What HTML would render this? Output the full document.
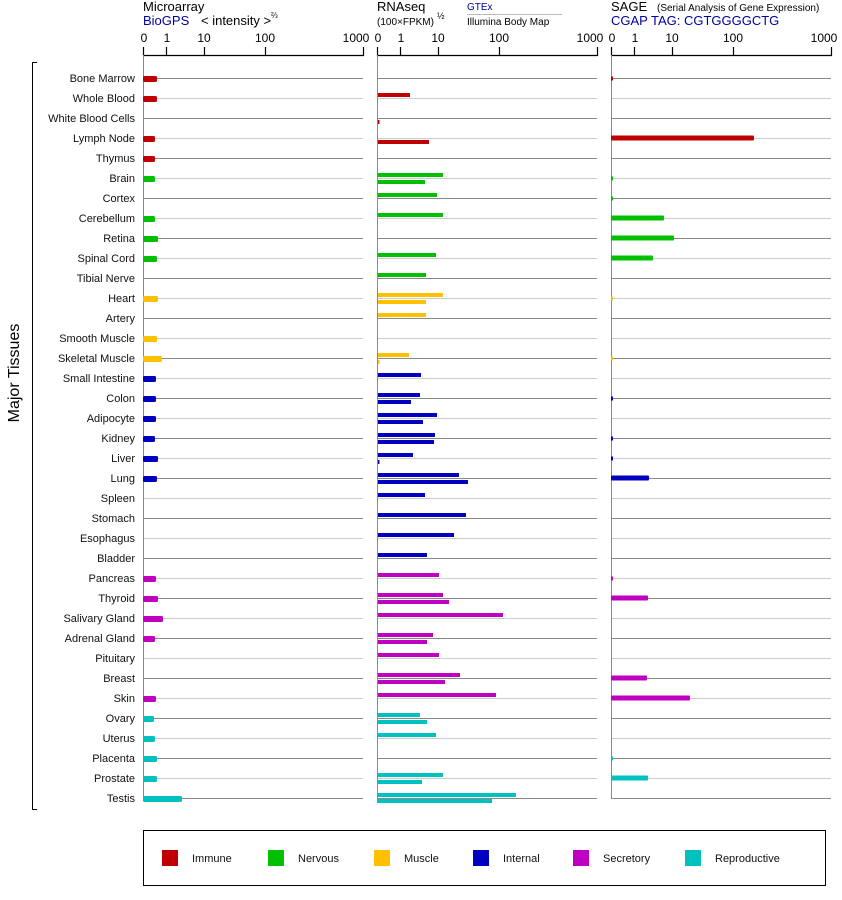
<!DOCTYPE html>
<html><head><meta charset="utf-8"><style>
html,body{margin:0;padding:0;background:#fff;}
svg{display:block;font-family:"Liberation Sans",Arial,sans-serif;}
.lb{font-size:11px;fill:#111;text-anchor:end;}
.tk{font-size:12px;fill:#000;text-anchor:middle;}
</style></head><body>
<svg width="842" height="900" viewBox="0 0 842 900" xmlns="http://www.w3.org/2000/svg">
<!-- headers -->
<text x="143" y="11" font-size="13">Microarray</text>
<text x="143" y="25" font-size="13" fill="#0000a0">BioGPS</text>
<text x="201" y="25" font-size="13">&lt; intensity &gt;</text>
<text x="271" y="18" font-size="8">⅔</text>
<text x="377" y="11" font-size="13">RNAseq</text>
<text x="377" y="25" font-size="10">(100×FPKM)</text>
<text x="437" y="19" font-size="9">½</text>
<text x="467" y="10" font-size="10" fill="#0000a0">GTEx</text>
<line x1="467" y1="14.5" x2="562" y2="14.5" stroke="#bbb"/>
<text x="467" y="25" font-size="10">Illumina Body Map</text>
<text x="611" y="11" font-size="13">SAGE</text>
<text x="657" y="11" font-size="10">(Serial Analysis of Gene Expression)</text>
<text x="611" y="25" font-size="13" fill="#0000a0">CGAP  TAG: CGTGGGGCTG</text>

<!-- axes -->
<g stroke="#000" stroke-width="1.2" fill="none">
<path d="M143.5 47V55.5H363.5V47M166.5 47V55M204.5 47V55M265.5 47V55"/>
<path d="M377.5 47V55.5H597.5V47M400.5 47V55M438.5 47V55M499.5 47V55"/>
<path d="M611.5 47V55.5H831.5V47M634.5 47V55M672.5 47V55M733.5 47V55"/>
</g>
<g class="tk">
<text x="144" y="42">0</text><text x="167" y="42">1</text><text x="204" y="42">10</text><text x="265" y="42">100</text><text x="356" y="42">1000</text>
<text x="378" y="42">0</text><text x="401" y="42">1</text><text x="438" y="42">10</text><text x="499" y="42">100</text><text x="590" y="42">1000</text>
<text x="612" y="42">0</text><text x="635" y="42">1</text><text x="672" y="42">10</text><text x="733" y="42">100</text><text x="824" y="42">1000</text>
</g>

<!-- row lines -->
<g stroke-width="1">
<g stroke="#888">
<path d="M143 78.5H363M377 78.5H597M611 78.5H831"/>
<path d="M143 118.5H363M377 118.5H597M611 118.5H831"/>
<path d="M143 158.5H363M377 158.5H597M611 158.5H831"/>
<path d="M143 198.5H363M377 198.5H597M611 198.5H831"/>
<path d="M143 238.5H363M377 238.5H597M611 238.5H831"/>
<path d="M143 278.5H363M377 278.5H597M611 278.5H831"/>
<path d="M143 318.5H363M377 318.5H597M611 318.5H831"/>
<path d="M143 358.5H363M377 358.5H597M611 358.5H831"/>
<path d="M143 398.5H363M377 398.5H597M611 398.5H831"/>
<path d="M143 438.5H363M377 438.5H597M611 438.5H831"/>
<path d="M143 478.5H363M377 478.5H597M611 478.5H831"/>
<path d="M143 518.5H363M377 518.5H597M611 518.5H831"/>
<path d="M143 558.5H363M377 558.5H597M611 558.5H831"/>
<path d="M143 598.5H363M377 598.5H597M611 598.5H831"/>
<path d="M143 638.5H363M377 638.5H597M611 638.5H831"/>
<path d="M143 678.5H363M377 678.5H597M611 678.5H831"/>
<path d="M143 718.5H363M377 718.5H597M611 718.5H831"/>
<path d="M143 758.5H363M377 758.5H597M611 758.5H831"/>
<path d="M143 798.5H363M377 798.5H597M611 798.5H831"/>
</g>
<g stroke="#ccc">
<path d="M143 98.5H363M377 98.5H597M611 98.5H831"/>
<path d="M143 138.5H363M377 138.5H597M611 138.5H831"/>
<path d="M143 178.5H363M377 178.5H597M611 178.5H831"/>
<path d="M143 218.5H363M377 218.5H597M611 218.5H831"/>
<path d="M143 258.5H363M377 258.5H597M611 258.5H831"/>
<path d="M143 298.5H363M377 298.5H597M611 298.5H831"/>
<path d="M143 338.5H363M377 338.5H597M611 338.5H831"/>
<path d="M143 378.5H363M377 378.5H597M611 378.5H831"/>
<path d="M143 418.5H363M377 418.5H597M611 418.5H831"/>
<path d="M143 458.5H363M377 458.5H597M611 458.5H831"/>
<path d="M143 498.5H363M377 498.5H597M611 498.5H831"/>
<path d="M143 538.5H363M377 538.5H597M611 538.5H831"/>
<path d="M143 578.5H363M377 578.5H597M611 578.5H831"/>
<path d="M143 618.5H363M377 618.5H597M611 618.5H831"/>
<path d="M143 658.5H363M377 658.5H597M611 658.5H831"/>
<path d="M143 698.5H363M377 698.5H597M611 698.5H831"/>
<path d="M143 738.5H363M377 738.5H597M611 738.5H831"/>
<path d="M143 778.5H363M377 778.5H597M611 778.5H831"/>
</g>
<path d="M143.5 55V799M377.5 55V799M611.5 55V799" stroke="#888"/>
</g>

<!-- bracket & axis title -->
<path d="M37 62.5H32.5V809.5H37" stroke="#000" fill="none"/>
<text transform="translate(19,373) rotate(-90)" font-size="16" text-anchor="middle">Major Tissues</text>

<!-- labels -->
<g class="lb">
<text x="135" y="82">Bone Marrow</text><text x="135" y="102">Whole Blood</text><text x="135" y="122">White Blood Cells</text>
<text x="135" y="142">Lymph Node</text><text x="135" y="162">Thymus</text><text x="135" y="182">Brain</text>
<text x="135" y="202">Cortex</text><text x="135" y="222">Cerebellum</text><text x="135" y="242">Retina</text>
<text x="135" y="262">Spinal Cord</text><text x="135" y="282">Tibial Nerve</text><text x="135" y="302">Heart</text>
<text x="135" y="322">Artery</text><text x="135" y="342">Smooth Muscle</text><text x="135" y="362">Skeletal Muscle</text>
<text x="135" y="382">Small Intestine</text><text x="135" y="402">Colon</text><text x="135" y="422">Adipocyte</text>
<text x="135" y="442">Kidney</text><text x="135" y="462">Liver</text><text x="135" y="482">Lung</text>
<text x="135" y="502">Spleen</text><text x="135" y="522">Stomach</text><text x="135" y="542">Esophagus</text>
<text x="135" y="562">Bladder</text><text x="135" y="582">Pancreas</text><text x="135" y="602">Thyroid</text>
<text x="135" y="622">Salivary Gland</text><text x="135" y="642">Adrenal Gland</text><text x="135" y="662">Pituitary</text>
<text x="135" y="682">Breast</text><text x="135" y="702">Skin</text><text x="135" y="722">Ovary</text>
<text x="135" y="742">Uterus</text><text x="135" y="762">Placenta</text><text x="135" y="782">Prostate</text>
<text x="135" y="802">Testis</text>
</g>

<!-- panel 1 bars -->
<g>
<g fill="#c00000">
<rect x="143" y="76" width="14" height="6" rx="1.5"/><rect x="143" y="96" width="14" height="6" rx="1.5"/>
<rect x="143" y="136" width="12" height="6" rx="1.5"/><rect x="143" y="156" width="12" height="6" rx="1.5"/>
</g>
<g fill="#00c000">
<rect x="143" y="176" width="12" height="6" rx="1.5"/><rect x="143" y="216" width="12" height="6" rx="1.5"/>
<rect x="143" y="236" width="15" height="6" rx="1.5"/><rect x="143" y="256" width="14" height="6" rx="1.5"/>
</g>
<g fill="#ffc000">
<rect x="143" y="296" width="15" height="6" rx="1.5"/><rect x="143" y="336" width="14" height="6" rx="1.5"/>
<rect x="143" y="356" width="19" height="6" rx="1.5"/>
</g>
<g fill="#0000c0">
<rect x="143" y="376" width="13" height="6" rx="1.5"/><rect x="143" y="396" width="13" height="6" rx="1.5"/>
<rect x="143" y="416" width="13" height="6" rx="1.5"/><rect x="143" y="436" width="12" height="6" rx="1.5"/>
<rect x="143" y="456" width="15" height="6" rx="1.5"/><rect x="143" y="476" width="14" height="6" rx="1.5"/>
</g>
<g fill="#c000c0">
<rect x="143" y="576" width="13" height="6" rx="1.5"/><rect x="143" y="596" width="15" height="6" rx="1.5"/>
<rect x="143" y="616" width="20" height="6" rx="1.5"/><rect x="143" y="636" width="12" height="6" rx="1.5"/>
<rect x="143" y="696" width="13" height="6" rx="1.5"/>
</g>
<g fill="#00c0c0">
<rect x="143" y="716" width="11" height="6" rx="1.5"/><rect x="143" y="736" width="12" height="6" rx="1.5"/>
<rect x="143" y="756" width="14" height="6" rx="1.5"/><rect x="143" y="776" width="14" height="6" rx="1.5"/>
<rect x="143" y="796" width="39" height="6" rx="1.5"/>
</g>
</g>

<!-- panel 2 bars (GTEx above, Illumina below) -->
<g>
<g fill="#c00000">
<rect x="378" y="93" width="32" height="4"/><rect x="378" y="120" width="1.5" height="4"/>
<rect x="378" y="140" width="51" height="4"/>
</g>
<g fill="#00c000">
<rect x="378" y="173" width="65" height="4"/><rect x="378" y="180" width="47" height="4"/>
<rect x="378" y="193" width="59" height="4"/><rect x="378" y="213" width="65" height="4"/>
<rect x="378" y="253" width="58" height="4"/><rect x="378" y="273" width="48" height="4"/>
</g>
<g fill="#ffc000">
<rect x="378" y="293" width="65" height="4"/><rect x="378" y="300" width="48" height="4"/>
<rect x="378" y="313" width="48" height="4"/><rect x="378" y="353" width="31" height="4"/>
<rect x="378" y="360" width="1.5" height="4"/>
</g>
<g fill="#0000c0">
<rect x="378" y="373" width="43" height="4"/>
<rect x="378" y="393" width="42" height="4"/><rect x="378" y="400" width="33" height="4"/>
<rect x="378" y="413" width="59" height="4"/><rect x="378" y="420" width="45" height="4"/>
<rect x="378" y="433" width="57" height="4"/><rect x="378" y="440" width="56" height="4"/>
<rect x="378" y="453" width="35" height="4"/><rect x="378" y="460" width="1.5" height="4"/>
<rect x="378" y="473" width="81" height="4"/><rect x="378" y="480" width="90" height="4"/>
<rect x="378" y="493" width="47" height="4"/><rect x="378" y="513" width="88" height="4"/>
<rect x="378" y="533" width="76" height="4"/><rect x="378" y="553" width="49" height="4"/>
</g>
<g fill="#c000c0">
<rect x="378" y="573" width="61" height="4"/>
<rect x="378" y="593" width="65" height="4"/><rect x="378" y="600" width="71" height="4"/>
<rect x="378" y="613" width="125" height="4"/>
<rect x="378" y="633" width="55" height="4"/><rect x="378" y="640" width="49" height="4"/>
<rect x="378" y="653" width="61" height="4"/>
<rect x="378" y="673" width="82" height="4"/><rect x="378" y="680" width="67" height="4"/>
<rect x="378" y="693" width="118" height="4"/>
</g>
<g fill="#00c0c0">
<rect x="378" y="713" width="42" height="4"/><rect x="378" y="720" width="49" height="4"/>
<rect x="378" y="733" width="58" height="4"/>
<rect x="378" y="773" width="65" height="4"/><rect x="378" y="780" width="44" height="4"/>
<rect x="378" y="793" width="138" height="4"/><rect x="377" y="799" width="115" height="4"/>
</g>
</g>

<!-- panel 3 bars -->
<g>
<g fill="#c00000">
<rect x="611" y="76.5" width="2" height="4"/>
<rect x="611" y="135.5" width="143" height="5" rx="1"/>
</g>
<g fill="#00c000">
<rect x="611" y="176.5" width="2" height="4"/><rect x="611" y="196.5" width="2" height="4"/>
<rect x="611" y="215.5" width="53" height="5" rx="1"/>
<rect x="611" y="235.5" width="63" height="5" rx="1"/>
<rect x="611" y="255.5" width="42" height="5" rx="1"/>
</g>
<g fill="#ffc000">
<rect x="611" y="296.5" width="2" height="4"/><rect x="611" y="356.5" width="2" height="4"/>
</g>
<g fill="#0000c0">
<rect x="611" y="396.5" width="2" height="4"/><rect x="611" y="436.5" width="2" height="4"/>
<rect x="611" y="456.5" width="2" height="4"/>
<rect x="611" y="475.5" width="38" height="5" rx="1"/>
</g>
<g fill="#c000c0">
<rect x="611" y="576.5" width="2" height="4"/>
<rect x="611" y="595.5" width="37" height="5" rx="1"/>
<rect x="611" y="675.5" width="36" height="5" rx="1"/>
<rect x="611" y="695.5" width="79" height="5" rx="1"/>
</g>
<g fill="#00c0c0">
<rect x="611" y="756.5" width="2" height="4"/>
<rect x="611" y="775.5" width="37" height="5" rx="1"/>
</g>
</g>

<!-- legend -->
<rect x="143.5" y="830.5" width="682" height="55" fill="none" stroke="#000" stroke-width="1"/>
<rect x="162" y="850" width="16" height="16" fill="#c00000"/>
<rect x="268" y="850" width="16" height="16" fill="#00c000"/>
<rect x="374" y="850" width="16" height="16" fill="#ffc000"/>
<rect x="473" y="850" width="16" height="16" fill="#0000c0"/>
<rect x="573" y="850" width="16" height="16" fill="#c000c0"/>
<rect x="685" y="850" width="16" height="16" fill="#00c0c0"/>
<g font-size="11" fill="#111">
<text x="192" y="862">Immune</text><text x="298" y="862">Nervous</text><text x="404" y="862">Muscle</text>
<text x="503" y="862">Internal</text><text x="603" y="862">Secretory</text><text x="715" y="862">Reproductive</text>
</g>
</svg>
</body></html>
